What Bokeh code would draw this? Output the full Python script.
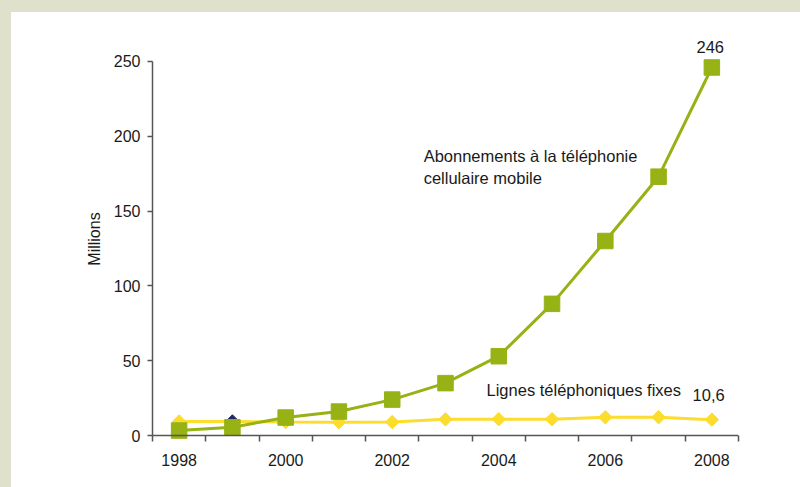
import math
from bokeh.plotting import figure
from bokeh.models import FixedTicker, Label, Range1d, Span, Spacer
from bokeh.layouts import column, row
from bokeh.embed import file_html
from bokeh.resources import INLINE

years = [1998, 1999, 2000, 2001, 2002, 2003, 2004, 2005, 2006, 2007, 2008]
mobile = [3.3, 5.5, 12, 16, 24, 35, 53, 88, 130, 173, 246]
fixed = [9.4, 9.4, 9.0, 8.9, 9.0, 10.8, 10.9, 10.9, 12.2, 12.2, 10.6]
fixed_marker_colors = ["#fcdc2c", "#1f2a6b", "#fcdc2c", "#fcdc2c", "#fcdc2c", "#fcdc2c",
                       "#fcdc2c", "#fcdc2c", "#fcdc2c", "#fcdc2c", "#fcdc2c"]
x_labels = [1998, 2000, 2002, 2004, 2006, 2008]
y_ticks = [0, 50, 100, 150, 200, 250]

FONT = "Liberation Sans"
GREEN = "#96b214"
YELLOW = "#fcdc2c"
AX = "#555555"
BEIGE = "#dfe1cc"
TXT = "#1a1a1a"

p = figure(width=789, height=475,
           x_range=Range1d(years[0] - 0.5, years[-1] + 0.5),
           y_range=Range1d(-4.01, 266.7),
           output_backend="svg", toolbar_location=None,
           min_border_left=141, min_border_right=62,
           min_border_top=24, min_border_bottom=46)
p.outline_line_color = None
p.xgrid.visible = False
p.ygrid.visible = False
p.background_fill_color = "white"
p.border_fill_color = "white"

# x axis base line at zero
p.add_layout(Span(location=0, dimension="width", line_color=AX, line_width=1.5))

# fixed lines (drawn beneath)
p.line(years, fixed, line_color=YELLOW, line_width=3)
p.scatter(years, fixed, marker="square", angle=math.pi / 4, size=9.5,
          fill_color=fixed_marker_colors, line_color=fixed_marker_colors)

# mobile
p.line(years, mobile, line_color=GREEN, line_width=3)
p.scatter(years, mobile, marker="square", size=15.5, fill_color=GREEN, line_color=GREEN)

# x axis
xa = p.xaxis[0]
xa.ticker = FixedTicker(ticks=x_labels,
                        minor_ticks=[y - 0.5 for y in years] + [years[-1] + 0.5])
xa.axis_line_color = None
xa.major_tick_out = 0
xa.major_tick_in = 0
xa.minor_tick_out = 0
xa.minor_tick_in = 6
xa.minor_tick_line_color = AX
xa.minor_tick_line_width = 1.5
xa.major_label_standoff = 12
xa.major_label_text_font = FONT
xa.major_label_text_font_size = "16px"
xa.major_label_text_color = TXT

# y axis
ya = p.yaxis[0]
ya.ticker = FixedTicker(ticks=y_ticks, minor_ticks=[])
ya.bounds = (y_ticks[0], y_ticks[-1])
ya.axis_line_color = AX
ya.axis_line_width = 1.5
ya.major_tick_out = 5
ya.major_tick_in = 0
ya.major_tick_line_color = AX
ya.major_tick_line_width = 1.5
ya.minor_tick_out = 0
ya.minor_tick_in = 0
ya.major_label_standoff = 7
ya.major_label_text_font = FONT
ya.major_label_text_font_size = "16px"
ya.major_label_text_color = TXT
ya.axis_label = "Millions"
ya.axis_label_standoff = 8
ya.axis_label_text_font = FONT
ya.axis_label_text_font_size = "16px"
ya.axis_label_text_font_style = "normal"
ya.axis_label_text_color = TXT

def lab(text, x, y, align="left"):
    p.add_layout(Label(x=x, y=y, text=text, text_font=FONT, text_font_size="16.5px",
                       text_color=TXT, text_align=align, text_baseline="middle"))

lab("Abonnements à la téléphonie", 2002.59, 186.5)
lab("cellulaire mobile", 2002.59, 171.8)
lab("Lignes téléphoniques fixes", 2003.77, 30.1)
lab("246", 2007.97, 259.4, "center")
lab("10,6", 2007.94, 27.4, "center")

top_strip = Spacer(width=800, height=12, styles={"background-color": BEIGE})
left_strip = Spacer(width=11, height=475, styles={"background-color": BEIGE})
layout = column(top_strip, row(left_strip, p, spacing=0), spacing=0)

open("out.html", "w").write(file_html(layout, INLINE))
